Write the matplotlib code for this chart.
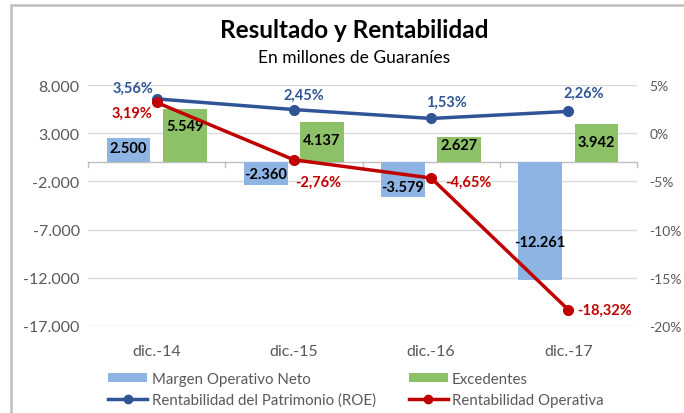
import matplotlib
matplotlib.use("Agg")
import matplotlib.pyplot as plt
from matplotlib.patches import Rectangle, Patch
from matplotlib.lines import Line2D
import numpy as np

plt.rcParams['font.family'] = ['Lato', 'DejaVu Sans']

categories = ["dic.-14", "dic.-15", "dic.-16", "dic.-17"]
margen = [2500, -2360, -3579, -12261]
excedentes = [5549, 4137, 2627, 3942]
roe = [3.56, 2.45, 1.53, 2.26]
rent_op = [3.19, -2.76, -4.65, -18.32]

left_ticks = [8000, 3000, -2000, -7000, -12000, -17000]
right_ticks = [5, 0, -5, -10, -15, -20]

def fmt_thousands(v):
    s = f"{abs(v):,.0f}".replace(",", ".")
    return ("-" if v < 0 else "") + s

def fmt_pct(v):
    return f"{v:.2f}".replace(".", ",") + "%"

C_BLUE_BAR = "#8DB4E2"
C_GREEN_BAR = "#8CC168"
C_ROE = "#2F5597"
C_RO = "#C00000"
GRAY = "#595959"

fig = plt.figure(figsize=(6.84, 4.14), dpi=100)
# outer frame
fig.patches.append(Rectangle((11/684, -0.1), 1.2, (414-6)/414 + 0.1, transform=fig.transFigure,
                             fill=False, edgecolor="#BFBFBF", linewidth=1.8))

ax = fig.add_axes([88/684, (414-327)/414, (637-88)/684, (327-86)/414])
ax2 = ax.twinx()

x = np.arange(len(categories))
w = 0.32
off = 0.205
ax.bar(x - off, margen, w, color=C_BLUE_BAR, zorder=2)
ax.bar(x + off, excedentes, w, color=C_GREEN_BAR, zorder=2)

ax.set_ylim(-17000, 8000)
ax.set_xlim(-0.5, 3.5)
ax.set_yticks(left_ticks)
ax.set_yticklabels([fmt_thousands(t) for t in left_ticks])
ax.yaxis.grid(True, color="#D9D9D9", linewidth=1)
ax.set_axisbelow(True)
for s in ax.spines.values():
    s.set_visible(False)
ax.tick_params(axis='y', length=0, labelsize=11.5, labelcolor=GRAY, pad=6)
ax.set_xticks(x)
ax.set_xticklabels(categories)
ax.tick_params(axis='x', length=0, labelsize=11.5, labelcolor=GRAY, pad=13)
ax.axhline(0, color="#BFBFBF", linewidth=1, zorder=1)
for b in np.arange(-0.5, 4.0, 1.0):
    ax.plot([b, b], [0, -500], color="#BFBFBF", linewidth=1, zorder=1, clip_on=False)

# bar labels
fracs_m = [0.58, 0.53, 0.72, 0.68]
fracs_e = [0.67, 0.55, 0.67, 0.53]
for i, v in enumerate(margen):
    ax.text(x[i] - off, v * fracs_m[i], fmt_thousands(v), ha='center', va='center',
            fontsize=10.5, fontweight='bold', color='black', zorder=5)
for i, v in enumerate(excedentes):
    ax.text(x[i] + off, v * fracs_e[i], fmt_thousands(v), ha='center', va='center',
            fontsize=10.5, fontweight='bold', color='black', zorder=5)

# right axis
ax2.set_ylim(-20, 5)
ax2.set_yticks(right_ticks)
ax2.set_yticklabels([f"{t}%" for t in right_ticks])
for s in ax2.spines.values():
    s.set_visible(False)
ax2.tick_params(axis='y', length=0, labelsize=10, labelcolor=GRAY, pad=9)

ax2.plot(x, roe, color=C_ROE, linewidth=2.5, marker='o', markersize=7, zorder=6)
ax2.plot(x, rent_op, color=C_RO, linewidth=2.5, marker='o', markersize=7, zorder=7)

roe_off = [(-24, 11, 'center'), (10, 15, 'center'), (15, 17, 'center'), (15, 19, 'center')]
ro_off = [(-25, -10, 'center'), (24, -22, 'center'), (14, -4, 'left'), (9, 0, 'left')]
for i, v in enumerate(roe):
    dx, dy, ha = roe_off[i]
    ax2.annotate(fmt_pct(v), (x[i], v), xytext=(dx, dy), textcoords='offset pixels',
                 ha=ha, va='center', fontsize=10.5, fontweight='bold', color=C_ROE, zorder=8)
for i, v in enumerate(rent_op):
    dx, dy, ha = ro_off[i]
    ax2.annotate(fmt_pct(v), (x[i], v), xytext=(dx, dy), textcoords='offset pixels',
                 ha=ha, va='center', fontsize=10.5, fontweight='bold', color=C_RO, zorder=8)

fig.text(354/684, 1 - 31/414, "Resultado y Rentabilidad", ha='center', va='center',
         fontsize=17.5, fontweight='bold', color='black')
fig.text(354/684, 1 - 58/414, "En millones de Guaraníes", ha='center', va='center',
         fontsize=12.5, color='black')

handles = [
    Patch(facecolor=C_BLUE_BAR, edgecolor='none'),
    Line2D([0], [0], color=C_ROE, linewidth=2.5, marker='o', markersize=6),
    Patch(facecolor=C_GREEN_BAR, edgecolor='none'),
    Line2D([0], [0], color=C_RO, linewidth=2.5, marker='o', markersize=6),
]
labels = ["Margen Operativo Neto", "Rentabilidad del Patrimonio (ROE)",
          "Excedentes", "Rentabilidad Operativa"]
fig.legend(handles, labels, ncol=2, loc='upper left',
           bbox_to_anchor=(108/684, 1 - 373/414), frameon=False, fontsize=10.8,
           labelcolor=GRAY, handlelength=2.6, handleheight=0.6, handletextpad=0.3,
           columnspacing=2.2, labelspacing=0.45, borderaxespad=0, borderpad=0)

fig.savefig("out.png", dpi=100)
